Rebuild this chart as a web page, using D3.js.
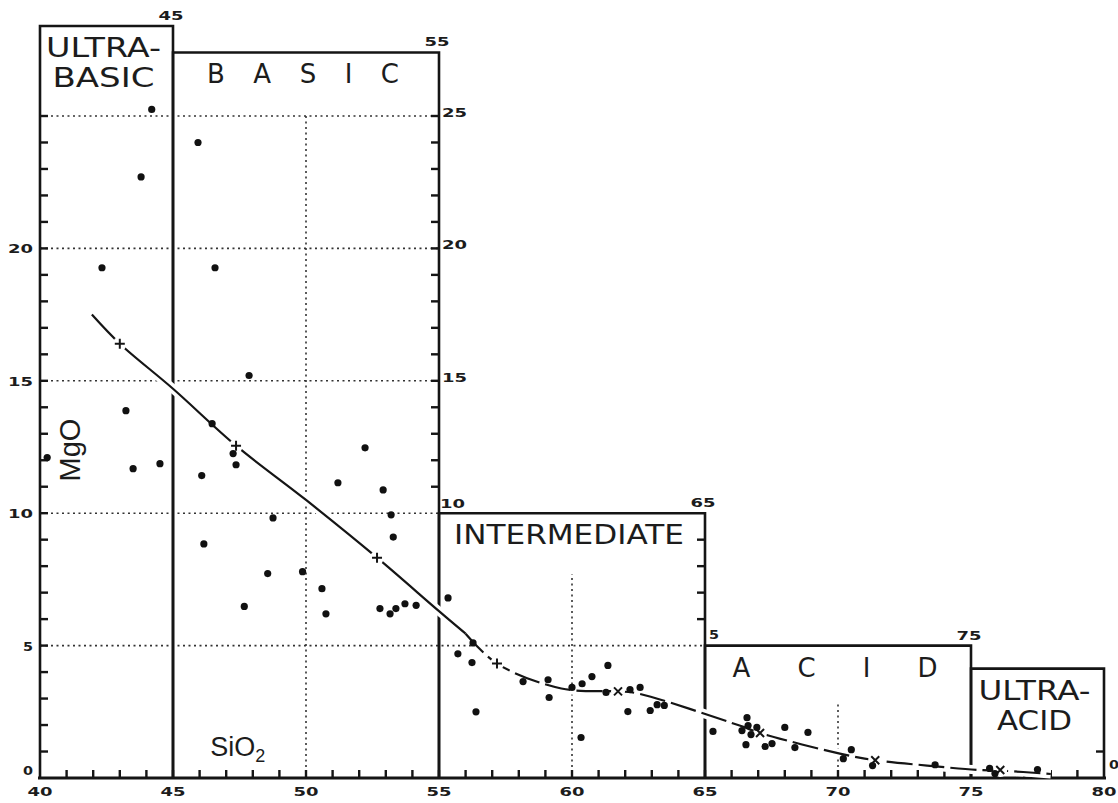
<!DOCTYPE html>
<html>
<head>
<meta charset="utf-8">
<script src="https://cdn.jsdelivr.net/npm/d3@7"></script>
<style>
  body { margin: 0; background: #fff; }
  svg { display: block; }
  text { font-family: 'DejaVu Sans', sans-serif; fill: #1c1c1c; }
</style>
</head>
<body>
<div id="chart"></div>
<script>
// SiO2 field boundaries and the MgO height of each field box
const fieldEdges = [40, 45, 55, 65, 75, 80];
const fieldTops = [28.4, 27.4, 10, 5, 4.13];
const fieldNames = [['ULTRA-', 'BASIC'], ['B A S I C'], ['INTERMEDIATE'], ['A C I D'], ['ULTRA-', 'ACID']];
const fieldNameWidths = [[115, 102], [192], [230], [205], [112, 75]];

// analyses (SiO2 %, MgO %)
const sampleSiO2 = [44.2, 43.8, 45.94, 42.33, 46.58, 47.86, 43.23, 46.47, 47.26, 47.37, 40.27, 43.5, 44.51, 46.08,
  52.22, 51.2, 52.9, 53.2, 48.76, 53.28, 46.16, 48.56, 49.87, 50.6, 47.68, 50.75, 52.78, 53.16, 53.38, 53.72, 54.14, 55.34,
  56.28, 55.71, 56.24, 56.39, 58.16, 59.1, 59.14, 60.0, 60.38, 60.75, 61.35, 61.28, 60.34, 62.18, 62.56, 62.1, 62.94, 63.2, 63.47, 65.3,
  66.58, 66.39, 66.62, 66.73, 66.95, 66.54, 67.26, 67.52, 68.0, 68.38, 68.87, 70.2, 70.5, 71.3, 73.65, 75.7, 75.9, 77.5];
const sampleMgO = [25.25, 22.7, 24.0, 19.27, 19.27, 15.2, 13.87, 13.38, 12.25, 11.83, 12.1, 11.68, 11.87, 11.42,
  12.47, 11.15, 10.88, 9.94, 9.82, 9.1, 8.84, 7.72, 7.79, 7.15, 6.48, 6.2, 6.4, 6.2, 6.4, 6.58, 6.52, 6.8,
  5.1, 4.69, 4.36, 2.5, 3.64, 3.71, 3.04, 3.42, 3.56, 3.83, 4.25, 3.23, 1.53, 3.34, 3.42, 2.51, 2.55, 2.77, 2.74, 1.76,
  2.28, 1.79, 1.98, 1.64, 1.91, 1.26, 1.19, 1.3, 1.91, 1.15, 1.72, 0.73, 1.07, 0.47, 0.5, 0.36, 0.17, 0.32];

// mean variation line
const trendSiO2 = [41.95, 43.0, 45.0, 47.37, 50.0, 52.67, 55.0, 56.0, 57.18, 59.6, 61.73, 62.44, 66.3, 67.07, 70.07, 71.4, 73.35, 75.3, 76.1, 78.0];
const trendMgO = [17.5, 16.4, 14.7, 12.55, 10.5, 8.32, 6.3, 5.45, 4.32, 3.38, 3.27, 3.2, 1.98, 1.7, 0.92, 0.67, 0.47, 0.3, 0.28, 0.15];
const trendSolidEnd = 56;

const plusSiO2 = [43.0, 47.37, 52.67, 57.18];
const plusMgO = [16.4, 12.55, 8.32, 4.32];
const crossSiO2 = [61.73, 67.07, 71.4, 76.1];
const crossMgO = [3.27, 1.7, 0.67, 0.3];

// dotted guide lines
const hGridMgO = [25, 20, 15, 10, 5];
const hGridEnd = [55, 55, 55, 55, 65];
const vGridSiO2 = [50, 60, 70];
const vGridTop = [25, 7.7, 2.9];

// ticks and labels
const xTicks = d3.range(41, 80);
const xTickLabels = [40, 45, 50, 55, 60, 65, 70, 75, 80];
const leftTicks = d3.range(1, 26);
const yTickLabels = [0, 5, 10, 15, 20];
const right55Ticks = d3.range(11, 26);
const right65Ticks = [6, 7, 8, 9];
const right80Ticks = [1];
const rightTickLabels = [25, 20, 15];
const cornerLabels = ['45', '55', '65', '75'];

const width = 1118;
const height = 803;

const x = d3.scaleLinear().domain([40, 80]).range([40, 1104]);
const y = d3.scaleLinear().domain([0, 25]).range([778, 116]);

const svg = d3.select('#chart').append('svg')
  .attr('width', width)
  .attr('height', height);

svg.append('rect').attr('width', width).attr('height', height).attr('fill', '#fff');

const ink = '#151515';
const tickLen = 8;

// dotted grid
svg.selectAll('.hgrid')
  .data(hGridMgO)
  .enter().append('line')
  .attr('x1', x(40)).attr('x2', (d, i) => x(hGridEnd[i]))
  .attr('y1', d => y(d)).attr('y2', d => y(d))
  .attr('stroke', '#333').attr('stroke-width', 1.6)
  .attr('stroke-dasharray', '2,3.5');

svg.selectAll('.vgrid')
  .data(vGridSiO2)
  .enter().append('line')
  .attr('x1', d => x(d)).attr('x2', d => x(d))
  .attr('y1', y(0)).attr('y2', (d, i) => y(vGridTop[i]))
  .attr('stroke', '#333').attr('stroke-width', 1.6)
  .attr('stroke-dasharray', '2,3.5');

// field boxes
const fields = fieldTops.map((top, i) => ({ x0: fieldEdges[i], x1: fieldEdges[i + 1], top: top, names: fieldNames[i], widths: fieldNameWidths[i] }));

svg.selectAll('.field')
  .data(fields)
  .enter().append('path')
  .attr('d', d => 'M' + x(d.x0) + ',' + y(0) + 'V' + y(d.top) + 'H' + x(d.x1) + 'V' + y(0))
  .attr('fill', 'none')
  .attr('stroke', ink)
  .attr('stroke-width', 2.6);

// base line
svg.append('line')
  .attr('x1', x(40) - 2).attr('x2', x(80) + 2)
  .attr('y1', y(0)).attr('y2', y(0))
  .attr('stroke', ink).attr('stroke-width', 3);

// tick marks, all pointing into the diagram
const tickSegs = [];
xTicks.forEach(v => tickSegs.push([x(v), y(0), x(v), y(0) - tickLen]));
leftTicks.forEach(v => tickSegs.push([x(40), y(v), x(40) + tickLen, y(v)]));
[[55, right55Ticks], [65, right65Ticks], [80, right80Ticks]].forEach(([edge, vals]) => {
  vals.forEach(v => tickSegs.push([x(edge), y(v), x(edge) - tickLen, y(v)]));
});

svg.selectAll('rect.tick')
  .data(tickSegs)
  .enter().append('rect')
  .attr('class', 'tick')
  .attr('x', d => Math.min(d[0], d[2]) - (d[0] === d[2] ? 1.2 : 0))
  .attr('y', d => Math.min(d[1], d[3]) - (d[1] === d[3] ? 1.2 : 0))
  .attr('width', d => Math.abs(d[2] - d[0]) || 2.4)
  .attr('height', d => Math.abs(d[3] - d[1]) || 2.4)
  .attr('fill', ink);

// numeric labels
const numStyle = sel => sel
  .style('font-size', '13px')
  .style('font-weight', 'bold')
  .attr('textLength', d => String(d).length > 1 ? 25 : 10)
  .attr('lengthAdjust', 'spacingAndGlyphs');

svg.selectAll('.xl')
  .data(xTickLabels)
  .enter().append('text')
  .attr('x', d => x(d))
  .attr('y', y(0) + 18)
  .attr('text-anchor', 'middle')
  .text(d => d)
  .call(numStyle);

svg.selectAll('.yl')
  .data(yTickLabels)
  .enter().append('text')
  .attr('x', x(40) - 7)
  .attr('y', d => d === 0 ? y(d) - 3 : y(d) + 5)
  .attr('text-anchor', 'end')
  .text(d => d)
  .call(numStyle);

svg.selectAll('.rl')
  .data(rightTickLabels)
  .enter().append('text')
  .attr('x', x(55) + 3)
  .attr('y', d => y(d) + 1)
  .text(d => d)
  .call(numStyle);

svg.selectAll('.corner')
  .data(cornerLabels)
  .enter().append('text')
  .attr('x', (d, i) => x(fieldEdges[i + 1]) - 2)
  .attr('y', (d, i) => y(fieldTops[i]) - 6)
  .attr('text-anchor', 'middle')
  .text(d => d)
  .call(numStyle);

svg.append('text').datum('10')
  .attr('x', x(55) + 1).attr('y', y(10) - 5)
  .text(d => d).call(numStyle);
svg.append('text').datum('5')
  .attr('x', x(65) + 4).attr('y', y(5) - 7)
  .text(d => d).call(numStyle);
svg.append('text').datum('0')
  .attr('x', x(80) + 5).attr('y', y(0) - 9)
  .text(d => d).call(numStyle);

// field names
fields.forEach(f => {
  f.names.forEach((name, j) => {
    svg.append('text')
      .attr('x', (x(f.x0) + x(f.x1)) / 2 - 3)
      .attr('y', y(f.top) + 31 + j * 30)
      .attr('text-anchor', 'middle')
      .attr('textLength', f.widths[j])
      .attr('lengthAdjust', name.includes(' ') ? 'spacing' : 'spacingAndGlyphs')
      .style('font-size', '26px')
      .text(name);
  });
});

// axis titles
svg.append('text')
  .attr('transform', 'translate(' + 80 + ',' + 450 + ') rotate(-90)')
  .attr('text-anchor', 'middle')
  .style('font-size', '29px')
  .style('font-family', "'Liberation Sans', sans-serif")
  .text('MgO');

const siTitle = svg.append('text')
  .attr('x', x(46.4)).attr('y', 756)
  .style('font-size', '27px')
  .style('font-family', "'Liberation Sans', sans-serif")
  .text('SiO');
siTitle.append('tspan')
  .attr('dy', 6)
  .style('font-size', '18px')
  .text('2');

// mean variation line
const trend = trendSiO2.map((s, i) => [s, trendMgO[i]]);
const line = d3.line()
  .x(d => x(d[0]))
  .y(d => y(d[1]))
  .curve(d3.curveCatmullRom);

svg.append('path')
  .attr('d', line(trend))
  .attr('fill', 'none')
  .attr('stroke', '#fff')
  .attr('stroke-width', 9);

svg.append('path')
  .attr('d', line(trend.filter(d => d[0] <= trendSolidEnd)))
  .attr('fill', 'none')
  .attr('stroke', ink)
  .attr('stroke-width', 2.2);

svg.append('path')
  .attr('d', line(trend.filter(d => d[0] >= trendSolidEnd)))
  .attr('fill', 'none')
  .attr('stroke', ink)
  .attr('stroke-width', 2.2)
  .attr('stroke-dasharray', '26,6');

// markers on the line
const plusMarks = plusSiO2.map((s, i) => [s, plusMgO[i]]);
const crossMarks = crossSiO2.map((s, i) => [s, crossMgO[i]]);

svg.selectAll('.knock')
  .data(plusMarks.concat(crossMarks))
  .enter().append('circle')
  .attr('cx', d => x(d[0]))
  .attr('cy', d => y(d[1]))
  .attr('r', 7)
  .attr('fill', '#fff');

svg.selectAll('.plus')
  .data(plusMarks)
  .enter().append('path')
  .attr('d', d => 'M' + (x(d[0]) - 5) + ',' + y(d[1]) + 'h10M' + x(d[0]) + ',' + (y(d[1]) - 5) + 'v10')
  .attr('stroke', ink)
  .attr('stroke-width', 2);

svg.selectAll('.cross')
  .data(crossMarks)
  .enter().append('path')
  .attr('d', d => 'M' + (x(d[0]) - 4) + ',' + (y(d[1]) - 4) + 'l8,8M' + (x(d[0]) + 4) + ',' + (y(d[1]) - 4) + 'l-8,8')
  .attr('stroke', ink)
  .attr('stroke-width', 2);

// analyses
svg.selectAll('.sample')
  .data(sampleSiO2)
  .enter().append('circle')
  .attr('cx', d => x(d))
  .attr('cy', (d, i) => y(sampleMgO[i]))
  .attr('r', 3.6)
  .attr('fill', '#111');
</script>
</body>
</html>
